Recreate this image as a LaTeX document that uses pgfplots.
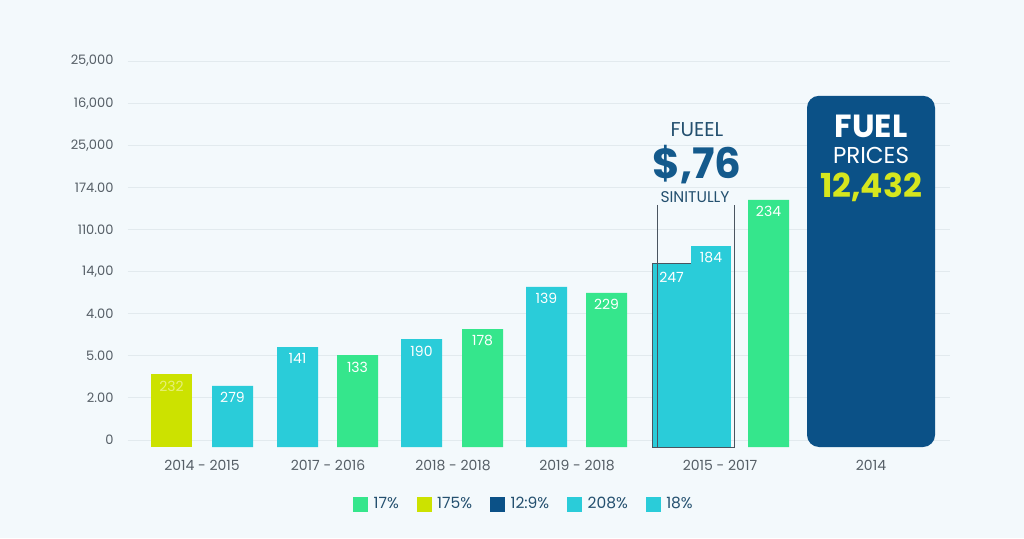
\documentclass[border=0pt]{standalone}
\usepackage{pgfplots}
\pgfplotsset{compat=1.18}
\usepackage{fontspec}
\setmainfont{Poppins}
\definecolor{bg}{HTML}{F3F9FC}
\definecolor{gridc}{HTML}{E2EAEE}
\definecolor{tickc}{HTML}{555E66}
\definecolor{yg}{HTML}{CCE200}
\definecolor{cy}{HTML}{2ACCD9}
\definecolor{gr}{HTML}{35E68C}
\definecolor{db}{HTML}{0B5187}
\definecolor{ylab}{HTML}{D6E61E}
\definecolor{boxc}{HTML}{4A5560}
\definecolor{ann}{HTML}{24506F}
\definecolor{annb}{HTML}{145A8C}
\pgfplotsset{mysq/.style={legend image code/.code={\fill[#1] (0pt,-7pt) rectangle (14pt,7pt);}}}
\begin{document}
\begin{tikzpicture}
\fill[bg] (-128pt,-91pt) rectangle (896pt,447pt);
\begin{axis}[
  scale only axis, width=822pt, height=387.4pt,
  xmin=128, xmax=950, ymin=0, ymax=9.2,
  clip=false,
  axis line style={draw=none}, tick style={draw=none},
  ymajorgrids, grid style={color=gridc, line width=0.9pt},
  ytick={0.166,1.166,2.166,3.166,4.166,5.166,6.166,7.166,8.166,9.166},
  yticklabels={{0},{2.00},{5.00},{4.00},{14,00},{110.00},{174.00},{25,000},{16,000},{25,000}},
  yticklabel style={font=\fontsize{13}{13}\selectfont, text=tickc, xshift=-11pt},
  xtick={202,328,453,577,720,871},
  xticklabels={{2014 - 2015},{2017 - 2016},{2018 - 2018},{2019 - 2018},{2015 - 2017},{2014}},
  xticklabel style={font=\fontsize{14}{14}\selectfont, text=tickc, yshift=-5pt},
  ybar,
  legend columns=5,
  legend style={at={(axis cs:524,-1.354)}, anchor=center, draw=none, fill=none,
    font=\fontsize{15.5}{15.5}\selectfont, text=ann,
    /tikz/every odd column/.append style={column sep=4pt},
    /tikz/every even column/.append style={column sep=16pt}},
  legend cell align=left,
]
\addplot[fill=yg, draw=none, bar width=41, bar shift=0pt,
  nodes near coords, point meta=explicit symbolic,
  nodes near coords style={anchor=north, yshift=-3pt, text=ylab!60!white, font=\fontsize{14}{14}\selectfont}, forget plot]
  table[meta=lab] {
x y lab
171.5 1.73 232
};
\addplot[fill=cy, draw=none, bar width=41, bar shift=0pt,
  nodes near coords, point meta=explicit symbolic,
  nodes near coords style={anchor=north, yshift=-3pt, text=white, font=\fontsize{14}{14}\selectfont}, forget plot]
  table[meta=lab] {
x y lab
232.5 1.45 279
297.5 2.37 141
421.5 2.56 190
546.5 3.80 139
};
\addplot[fill=gr, draw=none, bar width=41, bar shift=0pt,
  nodes near coords, point meta=explicit symbolic,
  nodes near coords style={anchor=north, yshift=-3pt, text=white, font=\fontsize{14}{14}\selectfont}, forget plot]
  table[meta=lab] {
x y lab
357.5 2.18 133
482.5 2.80 178
606.5 3.66 229
768.5 5.87 234
};
\addplot[fill=cy, draw=boxc, line width=0.7pt, bar width=39, bar shift=0pt,
  nodes near coords, point meta=explicit symbolic,
  nodes near coords style={anchor=north, yshift=-6pt, text=white, font=\fontsize{14}{14}\selectfont}, forget plot]
  table[meta=lab] {
x y lab
671.5 4.37 247
};
\addplot[fill=cy, draw=none, bar width=40, bar shift=0pt,
  nodes near coords, point meta=explicit symbolic,
  nodes near coords style={anchor=north, yshift=-3pt, text=white, font=\fontsize{14}{14}\selectfont}, forget plot]
  table[meta=lab] {
x y lab
711 4.77 184
};
\addplot[fill=db, draw=none, bar width=128, bar shift=0pt, rounded corners=12pt, forget plot]
  table {
x y
871 8.34
};
\draw[boxc, line width=0.8pt] (axis cs:657,5.75) -- (axis cs:657,-0.02) -- (axis cs:734,-0.02) -- (axis cs:734,5.75);
\node[text=ann, font=\fontsize{20}{20}\selectfont] at (axis cs:697,7.53) {FUEEL};
\node[text=annb, font=\fontsize{42}{42}\selectfont\bfseries] at (axis cs:697,6.70) {\$,76};
\node[text=ann, font=\fontsize{15.5}{15.5}\selectfont] at (axis cs:695,5.94) {SINITULLY};
\node[text=white, font=\fontsize{32}{32}\selectfont\bfseries] at (axis cs:871,7.62) {FUEL};
\node[text=white, font=\fontsize{23}{23}\selectfont] at (axis cs:871,6.93) {PRICES};
\node[text=ylab, font=\fontsize{33}{33}\selectfont\bfseries] at (axis cs:871,6.17) {12,432};
\addlegendimage{mysq=gr}\addlegendentry{17\%}
\addlegendimage{mysq=yg}\addlegendentry{175\%}
\addlegendimage{mysq=db}\addlegendentry{12:9\%}
\addlegendimage{mysq=cy}\addlegendentry{208\%}
\addlegendimage{mysq=cy}\addlegendentry{18\%}
\end{axis}
\end{tikzpicture}
\end{document}
